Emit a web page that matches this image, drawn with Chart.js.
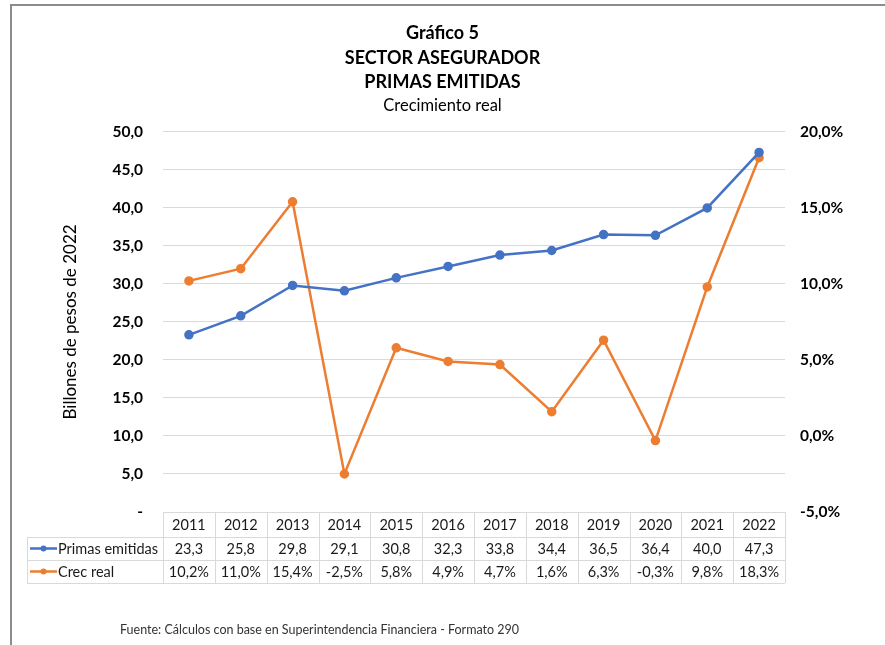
<!DOCTYPE html>
<html>
<head>
<meta charset="utf-8">
<script src="https://cdn.jsdelivr.net/npm/chart.js@4.4.0/dist/chart.umd.min.js"></script>
<style>
  body { margin: 0; background: #fff; }
  #wrap { position: relative; width: 885px; height: 645px; }
</style>
</head>
<body>
<div id="wrap"><canvas id="grafico" width="885" height="645"></canvas></div>
<script>
const anios = ["2011", "2012", "2013", "2014", "2015", "2016", "2017", "2018", "2019", "2020", "2021", "2022"];
const primasEmitidas = [23.3, 25.8, 29.8, 29.1, 30.8, 32.3, 33.8, 34.4, 36.5, 36.4, 40.0, 47.3];
const crecReal = [10.2, 11.0, 15.4, -2.5, 5.8, 4.9, 4.7, 1.6, 6.3, -0.3, 9.8, 18.3];

const azul = "#4472C4";
const naranja = "#ED7D31";
const fuente = "Lato, 'Open Sans', sans-serif";

const coma = v => v.toFixed(1).replace(".", ",");

// marco + tabla de datos + fuente
const tablaDatos = {
    id: "tablaDatos",
    beforeDraw(chart) {
        const ctx = chart.ctx;
        ctx.save();
        ctx.fillStyle = "#fff";
        ctx.fillRect(0, 0, chart.width, chart.height);
        ctx.strokeStyle = "#8c8c8c";
        ctx.lineWidth = 2;
        ctx.beginPath();
        ctx.moveTo(11, chart.height);
        ctx.lineTo(11, 5);
        ctx.lineTo(chart.width, 5);
        ctx.stroke();
        ctx.restore();
    },
    afterDraw(chart) {
        const ctx = chart.ctx;
        const x = chart.scales.x;
        const area = chart.chartArea;
        const ancho = (area.right - area.left) / anios.length;
        const filas = [area.bottom, area.bottom + 25, area.bottom + 48, area.bottom + 71];
        const izq = 27;

        ctx.save();
        ctx.strokeStyle = "#d9d9d9";
        ctx.lineWidth = 1;
        ctx.beginPath();
        // lineas horizontales
        ctx.moveTo(area.left, filas[0] + 0.5); ctx.lineTo(area.right, filas[0] + 0.5);
        for (let i = 1; i < filas.length; i++) {
            ctx.moveTo(izq, filas[i] + 0.5); ctx.lineTo(area.right, filas[i] + 0.5);
        }
        // lineas verticales
        for (let i = 0; i <= anios.length; i++) {
            const px = Math.round(area.left + i * ancho) + 0.5;
            ctx.moveTo(px, filas[0]); ctx.lineTo(px, filas[3]);
        }
        ctx.moveTo(izq + 0.5, filas[1]); ctx.lineTo(izq + 0.5, filas[3]);
        ctx.stroke();

        ctx.fillStyle = "#1a1a1a";
        ctx.font = "14.5px " + fuente;
        ctx.textAlign = "center";
        ctx.textBaseline = "middle";
        anios.forEach((a, i) => {
            const cx = x.getPixelForValue(i);
            ctx.fillText(a, cx, (filas[0] + filas[1]) / 2 + 1);
            ctx.fillText(coma(primasEmitidas[i]), cx, (filas[1] + filas[2]) / 2 + 1);
            ctx.fillText(coma(crecReal[i]) + "%", cx, (filas[2] + filas[3]) / 2 + 1);
        });

        // leyenda
        const series = [
            { nombre: "Primas emitidas", color: azul, y: (filas[1] + filas[2]) / 2 },
            { nombre: "Crec real", color: naranja, y: (filas[2] + filas[3]) / 2 }
        ];
        series.forEach(s => {
            ctx.strokeStyle = s.color;
            ctx.fillStyle = s.color;
            ctx.lineWidth = 2.5;
            ctx.beginPath();
            ctx.moveTo(30, s.y); ctx.lineTo(57, s.y);
            ctx.stroke();
            ctx.beginPath();
            ctx.arc(43.5, s.y, 3, 0, Math.PI * 2);
            ctx.fill();
            ctx.fillStyle = "#1a1a1a";
            ctx.textAlign = "left";
            ctx.fillText(s.nombre, 58, s.y + 1);
        });

        ctx.font = "12.5px " + fuente;
        ctx.fillStyle = "#333";
        ctx.textAlign = "left";
        ctx.fillText("Fuente: Cálculos con base en Superintendencia Financiera - Formato 290", 120, 630);
        ctx.restore();
    }
};

new Chart(document.getElementById("grafico"), {
    type: "line",
    data: {
        labels: anios,
        datasets: [
            {
                label: "Primas emitidas",
                data: primasEmitidas,
                yAxisID: "y",
                borderColor: azul,
                backgroundColor: azul,
                borderWidth: 2.5,
                pointRadius: 3.5,
                pointHoverRadius: 3.5,
                tension: 0
            },
            {
                label: "Crec real",
                data: crecReal,
                yAxisID: "y1",
                borderColor: naranja,
                backgroundColor: naranja,
                borderWidth: 2.5,
                pointRadius: 3.5,
                pointHoverRadius: 3.5,
                tension: 0
            }
        ]
    },
    options: {
        responsive: false,
        animation: false,
        devicePixelRatio: 1,
        layout: { padding: { left: 0, right: 0, top: 0, bottom: 133 } },
        plugins: {
            legend: { display: false },
            tooltip: { enabled: false },
            title: {
                display: true,
                text: ["Gráfico 5", "SECTOR ASEGURADOR", "PRIMAS EMITIDAS"],
                color: "#000",
                font: { family: fuente, size: 18, weight: "bold", lineHeight: 1.36 },
                padding: { top: 21, bottom: 0 }
            },
            subtitle: {
                display: true,
                text: "Crecimiento real",
                color: "#000",
                font: { family: fuente, size: 16.5, lineHeight: 1.3 },
                padding: { top: 1, bottom: 15 }
            }
        },
        scales: {
            x: {
                display: false,
                offset: true
            },
            y: {
                position: "left",
                min: 0,
                max: 50,
                afterFit: s => { s.width = 163; },
                ticks: {
                    stepSize: 5,
                    padding: 20,
                    color: "#000",
                    font: { family: fuente, size: 15.5, weight: "bold" },
                    callback: v => v === 0 ? "-" : coma(v)
                },
                grid: { color: "#d9d9d9", drawTicks: false },
                border: { display: false },
                title: {
                    display: true,
                    text: "Billones de pesos de 2022",
                    color: "#000",
                    font: { family: fuente, size: 17, lineHeight: 1.2 },
                    padding: { top: 60, bottom: 0 }
                }
            },
            y1: {
                position: "right",
                min: -5,
                max: 20,
                afterFit: s => { s.width = 100; },
                ticks: {
                    stepSize: 5,
                    padding: 15,
                    color: "#000",
                    font: { family: fuente, size: 15.5, weight: "bold" },
                    callback: v => coma(v) + "%"
                },
                grid: { display: false, drawTicks: false },
                border: { display: false }
            }
        }
    },
    plugins: [tablaDatos]
});
</script>
</body>
</html>
